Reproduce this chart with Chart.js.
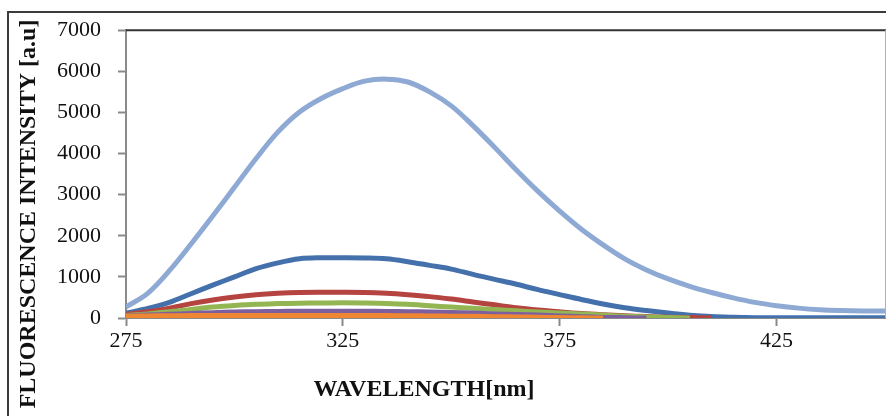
<!DOCTYPE html>
<html>
<head>
<meta charset="utf-8">
<script src="https://cdn.jsdelivr.net/npm/chart.js@4.4.1/dist/chart.umd.min.js"></script>
<style>
  html, body { margin: 0; padding: 0; background: #fff; overflow: hidden; }
  .wrap { position: relative; width: 886px; height: 416px; }
  .frame {
    position: absolute; left: 7px; top: 11px; width: 900px; height: 420px;
    border-left: 2px solid #3c3c3c; border-top: 2px solid #3c3c3c;
  }
  #myChart { position: absolute; left: 0; top: 0; }
</style>
</head>
<body>
<div class="wrap">
  <div class="frame"></div>
  <canvas id="myChart" width="886" height="416"></canvas>
</div>
<script>
/* emission spectra, intensity per wavelength (nm) */
const wavelengths = [275, 280, 285, 290, 295, 300, 305, 310, 315, 320, 325, 330, 335, 340, 345, 350,
  355, 360, 365, 370, 375, 380, 385, 390, 395, 400, 405, 410, 415, 420, 425, 430, 435, 440, 445, 450];

const lightBlue = [270, 600, 1150, 1800, 2480, 3180, 3880, 4520, 5010, 5340, 5580, 5760, 5810, 5740, 5500, 5160,
  4680, 4150, 3600, 3080, 2600, 2160, 1780, 1440, 1170, 950, 770, 620, 490, 380, 300, 240, 200, 180, 170, 170];
const darkBlue = [120, 230, 380, 590, 800, 1000, 1200, 1340, 1440, 1465, 1465, 1460, 1440, 1370, 1280, 1190,
  1060, 940, 820, 690, 570, 450, 340, 250, 180, 120, 70, 35, 18, 8, 5, 5, 5, 5, 5, 5];
const red = [90, 150, 240, 350, 440, 510, 565, 600, 620, 625, 625, 620, 600, 565, 520, 460,
  390, 320, 250, 195, 150, 110, 80, 55, 35, 20, 10, 0];
const green = [60, 100, 150, 210, 265, 305, 335, 350, 360, 365, 370, 365, 355, 335, 300, 265,
  235, 205, 175, 145, 120, 95, 70, 45, 25, 10, 0];
const purple = [50, 70, 90, 110, 130, 145, 155, 160, 165, 165, 165, 165, 160, 155, 145, 135,
  120, 100, 85, 70, 50, 30, 15, 5, 0];
const teal = [40, 50, 60, 75, 85, 95, 100, 105, 110, 110, 110, 108, 105, 100, 95, 85,
  75, 60, 45, 35, 25, 15, 8, 0];
const orange = [45, 50, 55, 58, 60, 62, 63, 63, 63, 63, 62, 60, 58, 55, 50, 45,
  40, 32, 25, 18, 10, 5, 0];

const xTicks = [275, 325, 375, 425];
const yMax = 7000;
const yStep = 1000;

const xTitle = 'WAVELENGTH[nm]';
const yTitle = 'FLUORESCENCE INTENSITY [a.u]';

const toPoints = (vals) => vals.map((v, i) => ({ x: wavelengths[i], y: v }));

const line = (vals, color) => ({
  data: toPoints(vals),
  borderColor: color,
  backgroundColor: color,
  borderWidth: 5,
  pointRadius: 0,
  fill: false,
  tension: 0.35,
});

/* axis titles + top/right edges of the plot area */
const decorations = {
  id: 'decorations',
  afterDraw(chart) {
    const { ctx, chartArea } = chart;
    ctx.save();
    ctx.strokeStyle = '#333';
    ctx.lineWidth = 2;
    ctx.beginPath();
    ctx.moveTo(chartArea.left, chartArea.top);
    ctx.lineTo(chartArea.right + 1, chartArea.top);
    ctx.stroke();
    ctx.strokeStyle = '#b0b0b0';
    ctx.lineWidth = 1;
    ctx.beginPath();
    ctx.moveTo(chartArea.right + 0.5, chartArea.top);
    ctx.lineTo(chartArea.right + 0.5, chartArea.bottom);
    ctx.stroke();

    ctx.fillStyle = '#111';
    ctx.font = 'bold 24px "Liberation Serif"';
    ctx.textAlign = 'center';
    ctx.textBaseline = 'middle';
    ctx.fillText(xTitle, chartArea.left + 298, 390);
    ctx.translate(29, 214);
    ctx.rotate(-Math.PI / 2);
    ctx.fillText(yTitle, 0, 0);
    ctx.restore();
  },
};

const tickFont = { family: '"Liberation Serif"', size: 22 };

new Chart(document.getElementById('myChart'), {
  type: 'line',
  data: {
    datasets: [
      line(orange, '#ee8632'),
      line(purple, '#7d5fa0'),
      line(teal, '#3fa3bf'),
      line(green, '#93b552'),
      line(red, '#b5433f'),
      line(darkBlue, '#4471ac'),
      line(lightBlue, '#8eaad4'),
    ],
  },
  options: {
    responsive: false,
    animation: false,
    layout: { padding: { top: 28, right: 1, left: 0, bottom: 0 } },
    plugins: {
      legend: { display: false },
      tooltip: { enabled: false },
    },
    scales: {
      x: {
        type: 'linear',
        min: 275,
        max: 450,
        afterBuildTicks: (scale) => {
          scale.ticks = xTicks.map((v) => ({ value: v }));
        },
        afterFit: (scale) => {
          scale.height = 98;
        },
        ticks: { font: tickFont, color: '#111', padding: 2, maxRotation: 0, autoSkip: false },
        grid: { drawOnChartArea: false, tickLength: 8, tickColor: '#8a8a8a', tickWidth: 2 },
        border: { color: '#8a8a8a', width: 2 },
      },
      y: {
        min: 0,
        max: yMax,
        afterFit: (scale) => {
          scale.width = 126;
        },
        ticks: {
          stepSize: yStep,
          font: tickFont,
          color: '#111',
          padding: 17,
          callback: (v) => String(v),
        },
        grid: { drawOnChartArea: false, tickLength: 8, tickColor: '#8a8a8a', tickWidth: 2 },
        border: { color: '#8a8a8a', width: 2 },
      },
    },
  },
  plugins: [decorations],
});
</script>
</body>
</html>
